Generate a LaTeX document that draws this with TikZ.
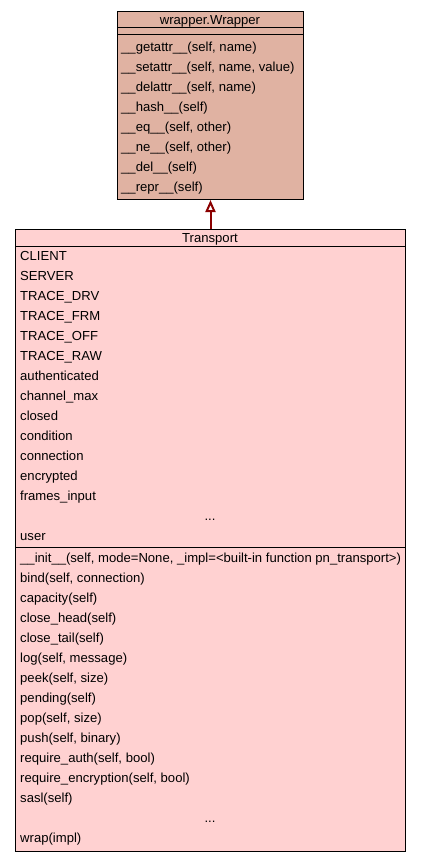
\documentclass[tikz,border=0pt]{standalone}
\usepackage{fontspec}
\setmainfont{Liberation Sans}
\usetikzlibrary{arrows.meta}
\definecolor{wrapfill}{HTML}{E0B2A2}
\definecolor{transfill}{HTML}{FFD1D1}
\definecolor{inhred}{HTML}{8B0000}
\begin{document}
\begin{tikzpicture}[x=1pt,y=-1pt,
  classbox/.style={draw=black,line width=1pt,inner sep=0pt,anchor=north west},
  member/.style={anchor=base west,inner sep=0pt,yshift=-4.6pt,font=\fontsize{13.1}{14}\selectfont},
  ctitle/.style={anchor=base,inner sep=0pt,yshift=-4.6pt,font=\fontsize{13.1}{14}\selectfont},
  sepline/.style={draw=black,line width=1pt},
  inherit/.style={draw=inhred,line width=2pt,-{Triangle[open,length=12pt,width=10pt,line width=2pt]}}]
\useasboundingbox (0,0) rectangle (421,861);
% wrapper box
\node[classbox,fill=wrapfill,minimum width=186pt,minimum height=188pt] (wrapper) at (117,11) {};
\node[ctitle] (wt) at (210,19.5) {wrapper.Wrapper};
\draw[sepline] (wrapper.west |- 0,28) -- (wrapper.east |- 0,28);
\draw[sepline] (wrapper.west |- 0,35) -- (wrapper.east |- 0,35);
\node[member] (w1) at (121,47) {\_\_getattr\_\_(self, name)};
\node[member] (w2) at (121,67) {\_\_setattr\_\_(self, name, value)};
\node[member] (w3) at (121,87) {\_\_delattr\_\_(self, name)};
\node[member] (w4) at (121,107) {\_\_hash\_\_(self)};
\node[member] (w5) at (121,127) {\_\_eq\_\_(self, other)};
\node[member] (w6) at (121,147) {\_\_ne\_\_(self, other)};
\node[member] (w7) at (121,167) {\_\_del\_\_(self)};
\node[member] (w8) at (121,187) {\_\_repr\_\_(self)};
% transport box
\node[classbox,fill=transfill,minimum width=390pt,minimum height=622pt] (transport) at (15,229) {};
\node[ctitle] (tt) at (210,237.5) {Transport};
\draw[sepline] (transport.west |- 0,246) -- (transport.east |- 0,246);
\node[member] (a1) at (20,256) {CLIENT};
\node[member] (a2) at (20,276) {SERVER};
\node[member] (a3) at (20,296) {TRACE\_DRV};
\node[member] (a4) at (20,316) {TRACE\_FRM};
\node[member] (a5) at (20,336) {TRACE\_OFF};
\node[member] (a6) at (20,356) {TRACE\_RAW};
\node[member] (a7) at (20,376) {authenticated};
\node[member] (a8) at (20,396) {channel\_max};
\node[member] (a9) at (20,416) {closed};
\node[member] (a10) at (20,436) {condition};
\node[member] (a11) at (20,456) {connection};
\node[member] (a12) at (20,476) {encrypted};
\node[member] (a13) at (20,496) {frames\_input};
\node[ctitle] (a14) at (210,516) {...};
\node[member] (a15) at (20,536) {user};
\draw[sepline] (transport.west |- 0,547) -- (transport.east |- 0,547);
\node[member] (m1) at (20,558) {\_\_init\_\_(self, mode=None, \_impl=<built-in function pn\_transport>)};
\node[member] (m2) at (20,578) {bind(self, connection)};
\node[member] (m3) at (20,598) {capacity(self)};
\node[member] (m4) at (20,618) {close\_head(self)};
\node[member] (m5) at (20,638) {close\_tail(self)};
\node[member] (m6) at (20,658) {log(self, message)};
\node[member] (m7) at (20,678) {peek(self, size)};
\node[member] (m8) at (20,698) {pending(self)};
\node[member] (m9) at (20,718) {pop(self, size)};
\node[member] (m10) at (20,738) {push(self, binary)};
\node[member] (m11) at (20,758) {require\_auth(self, bool)};
\node[member] (m12) at (20,778) {require\_encryption(self, bool)};
\node[member] (m13) at (20,798) {sasl(self)};
\node[ctitle] (m14) at (210,818) {...};
\node[member] (m15) at (20,838) {wrap(impl)};
% inheritance
\draw[inherit] (transport.north) -- (wrapper.south);
\end{tikzpicture}
\end{document}
